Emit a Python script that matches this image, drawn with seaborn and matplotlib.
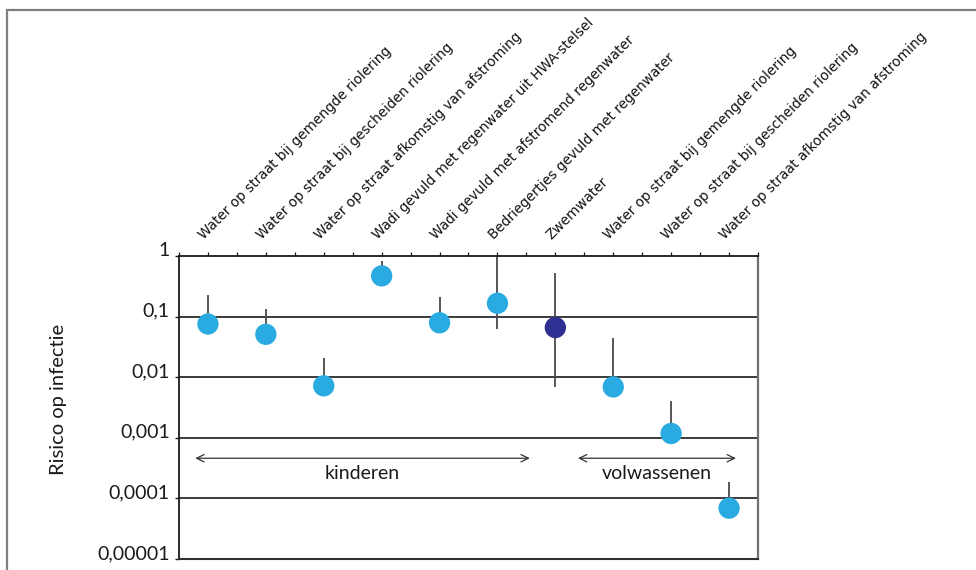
import numpy as np
import pandas as pd
import matplotlib
matplotlib.use("Agg")
import matplotlib.pyplot as plt
from matplotlib.patches import Rectangle
from matplotlib.transforms import ScaledTranslation
import seaborn as sns

# Blootstellingsscenario's (kinderen: eerste 7, volwassenen: laatste 3)
scenarios = [
    "Water op straat bij gemengde riolering",
    "Water op straat bij gescheiden riolering",
    "Water op straat afkomstig van afstroming",
    "Wadi gevuld met regenwater uit HWA-stelsel",
    "Wadi gevuld met afstromend regenwater",
    "Bedriegertjes gevuld met regenwater",
    "Zwemwater",
    "Water op straat bij gemengde riolering",
    "Water op straat bij gescheiden riolering",
    "Water op straat afkomstig van afstroming",
]
risico = [0.0755, 0.051, 0.0072, 0.47, 0.079, 0.166, 0.066, 0.0069, 0.00118, 0.000069]
risico_laag = [0.0755, 0.051, 0.0072, 0.47, 0.079, 0.062, 0.0070, 0.0069, 0.00118, 0.000069]
risico_hoog = [0.227, 0.133, 0.0205, 0.84, 0.21, 1.0, 0.52, 0.044, 0.0040, 0.00019]
soort = ["overig"] * 6 + ["zwemwater"] + ["overig"] * 3

y_ticks = [1e-5, 1e-4, 1e-3, 1e-2, 1e-1, 1]
y_ticklabels = ["0,00001", "0,0001", "0,001", "0,01", "0,1", "1"]

groepen = ["kinderen", "volwassenen"]
groep_van = [-0.22, 6.39]
groep_tot = [5.56, 9.12]

df = pd.DataFrame({
    "pos": np.arange(len(scenarios)),
    "scenario": scenarios,
    "risico": risico,
    "laag": risico_laag,
    "hoog": risico_hoog,
    "soort": soort,
})

sns.set_theme(style="white")
plt.rcParams["font.family"] = ["Lato", "DejaVu Sans"]

W, H = 976, 570
fig = plt.figure(figsize=(W / 100, H / 100), dpi=100)
ax = fig.add_axes([179 / W, 1 - 559 / H, (758 - 179) / W, (559 - 256) / H])

# Decade grid lines
for yt in y_ticks[1:-1]:
    ax.axhline(yt, color="#1a1a1a", lw=1.2, zorder=1)

# Uncertainty ranges
ax.vlines(df["pos"], df["laag"], df["hoog"], color="#4a4a4a", lw=1.3, zorder=2)

sns.scatterplot(
    data=df, x="pos", y="risico", hue="soort",
    palette={"overig": "#29abe2", "zwemwater": "#2e3192"},
    s=235, edgecolor="none", legend=False, zorder=3, ax=ax,
)

ax.set_yscale("log")
ax.set_ylim(1e-5, 1)
ax.set_xlim(-0.5, len(scenarios) - 0.5)

# y axis
ax.set_yticks(y_ticks)
ax.set_yticklabels(y_ticklabels)
ax.yaxis.set_minor_locator(matplotlib.ticker.NullLocator())
ax.tick_params(axis="y", which="major", direction="out", length=3.2, width=1,
               color="#1a1a1a", pad=3.5, labelsize=14, labelcolor="#1a1a1a", left=True)
for lab in ax.get_yticklabels():
    lab.set_verticalalignment("baseline")
ax.set_ylabel("Risico op infectie", fontsize=14.5, color="#1a1a1a")
ax.yaxis.set_label_coords(-0.193, 0.528)

# x axis on top with slanted scenario names
ax.xaxis.tick_top()
ax.set_xticks(df["pos"])
ax.set_xticks(np.arange(-0.5, len(scenarios), 1.0), minor=True)
ax.set_xticklabels(df["scenario"], rotation=45, ha="left", va="baseline",
                   rotation_mode="anchor", fontsize=9.8, family="DejaVu Sans",
                   color="#111111")
ax.tick_params(axis="x", which="both", direction="out", length=2.6, width=0.9,
               color="#1a1a1a", top=True, bottom=False)
ax.tick_params(axis="x", which="major", pad=9)
ax.set_xlabel("")
shift = ScaledTranslation(-4 / 100, 0, fig.dpi_scale_trans)
for lab in ax.get_xticklabels():
    lab.set_transform(lab.get_transform() + shift)

# Frame of the plotting area
for side, col, lw in [("left", "#1a1a1a", 1.3), ("top", "#1a1a1a", 1.3),
                      ("right", "#707070", 1.6), ("bottom", "#303030", 1.5)]:
    ax.spines[side].set_visible(True)
    ax.spines[side].set_color(col)
    ax.spines[side].set_linewidth(lw)

# Age group arrows
for naam, x0, x1 in zip(groepen, groep_van, groep_tot):
    ax.annotate("", xy=(x1, 4.6e-4), xytext=(x0, 4.6e-4),
                arrowprops=dict(arrowstyle="<->,head_length=0.45,head_width=0.22",
                                color="#333333", lw=0.9, shrinkA=0, shrinkB=0))
    ax.text((x0 + x1) / 2, 2.6e-4, naam, ha="center", va="center",
            fontsize=14, color="#1a1a1a")

# Outer frame around the figure
fig.patches.append(Rectangle((7 / W, -0.1), 1.2, 1 - 10 / H + 0.1,
                             transform=fig.transFigure, fill=False,
                             edgecolor="#7f7f7f", lw=1.6))

fig.savefig("out.png", dpi=100)
